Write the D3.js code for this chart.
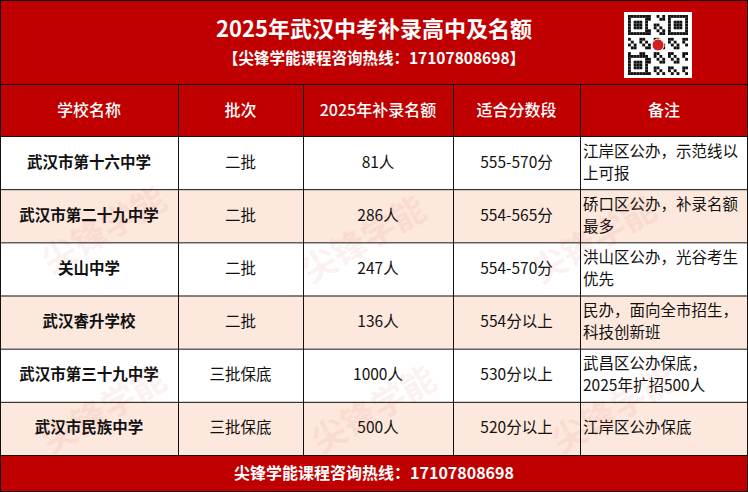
<!DOCTYPE html>
<html><head><meta charset="utf-8">
<script src="https://cdn.jsdelivr.net/npm/d3@7"></script>
<style>body{margin:0;background:#fff}svg{display:block;font-family:"Noto Sans CJK SC",sans-serif}</style>
</head><body><svg id="c" width="748" height="492"></svg>
<script>
var title = "2025年武汉中考补录高中及名额";
var hotline = "【尖锋学能课程咨询热线：17107808698】";
var footer = "尖锋学能课程咨询热线：17107808698";
var headers = ["学校名称", "批次", "2025年补录名额", "适合分数段", "备注"];
var schools = ["武汉市第十六中学", "武汉市第二十九中学", "关山中学", "武汉睿升学校", "武汉市第三十九中学", "武汉市民族中学"];
var batches = ["二批", "二批", "二批", "二批", "三批保底", "三批保底"];
var quotas = ["81人", "286人", "247人", "136人", "1000人", "500人"];
var scores = ["555-570分", "554-565分", "554-570分", "554分以上", "530分以上", "520分以上"];
var notes = [["江岸区公办，示范线以", "上可报"], ["硚口区公办，补录名额", "最多"], ["洪山区公办，光谷考生", "优先"], ["民办，面向全市招生，", "科技创新班"], ["武昌区公办保底，", "2025年扩招500人"], ["江岸区公办保底"]];

var svg = d3.select("#c");
var red = "#c00000";
var colEdges = [0, 178, 303, 453, 580, 748];
var y = d3.scaleBand().domain(d3.range(schools.length)).range([136, 455]);

// title band
svg.append("rect").attr("width", 748).attr("height", 84).attr("fill", red);
svg.append("text").attr("x", 374).attr("y", 37).attr("text-anchor", "middle").attr("fill", "#fff")
  .attr("font-size", 22).attr("font-weight", "bold").text(title);
svg.append("text").attr("x", 374).attr("y", 64).attr("text-anchor", "middle").attr("fill", "#fff")
  .attr("font-size", 15.5).attr("font-weight", "bold").text(hotline);

// qr-like badge
var qr = svg.append("g").attr("transform", "translate(624,12)");
qr.append("rect").attr("width", 68).attr("height", 66).attr("fill", "#fff");
var n = 21, s = 60 / n;
for (var i = 0; i < n; i++) for (var j = 0; j < n; j++) {
  var finder = (i < 7 && j < 7) || (i < 7 && j >= n - 7) || (i >= n - 7 && j < 7);
  var on;
  if (finder) {
    var a = i % 14, b = j % 14; if (i >= 14) a = i - 14; if (j >= 14) b = j - 14;
    on = a == 0 || a == 6 || b == 0 || b == 6 || (a >= 2 && a <= 4 && b >= 2 && b <= 4);
  } else on = ((i * 7 + j * 13 + i * j) % 5) < 2;
  if (on) qr.append("rect").attr("x", 4 + j * s).attr("y", 3 + i * s).attr("width", s).attr("height", s).attr("fill", "#111");
}
qr.append("circle").attr("cx", 34).attr("cy", 33).attr("r", 6).attr("fill", "#d62020").attr("stroke", "#fff");

// header row
svg.append("rect").attr("y", 84).attr("width", 748).attr("height", 52).attr("fill", red);
headers.forEach(function (h, k) {
  svg.append("text").attr("x", (colEdges[k] + colEdges[k + 1]) / 2).attr("y", 116)
    .attr("text-anchor", "middle").attr("fill", "#fff").attr("font-size", 16).attr("font-weight", 500).text(h);
});

// body rows
schools.forEach(function (sch, r) {
  var y0 = y(r), h = y.bandwidth(), cy = y0 + h / 2;
  svg.append("rect").attr("y", y0).attr("width", 748).attr("height", h).attr("fill", r % 2 ? "#fde8dd" : "#fff");
  var cells = [sch, batches[r], quotas[r], scores[r]];
  cells.forEach(function (t, k) {
    svg.append("text").attr("x", (colEdges[k] + colEdges[k + 1]) / 2).attr("y", cy + 5)
      .attr("text-anchor", "middle").attr("fill", "#111").attr("font-size", 15.5)
      .attr("font-weight", k == 0 ? "bold" : "normal").text(t);
  });
  var ls = notes[r];
  ls.forEach(function (t, li) {
    svg.append("text").attr("x", colEdges[4] + 3).attr("y", cy + 5 + (li - (ls.length - 1) / 2) * 22)
      .attr("fill", "#111").attr("font-size", 15.5).text(t);
  });
});

// watermark
[[110, 240], [370, 250], [600, 250], [110, 420], [380, 420], [620, 420]].forEach(function (p) {
  svg.append("text").attr("x", p[0]).attr("y", p[1]).attr("transform", "rotate(-30," + p[0] + "," + p[1] + ")")
    .attr("text-anchor", "middle").attr("font-size", 34).attr("font-weight", "bold")
    .attr("fill", "#d44").attr("opacity", 0.07).text("尖锋学能");
});

// footer
svg.append("rect").attr("y", 455).attr("width", 748).attr("height", 37).attr("fill", red);
svg.append("text").attr("x", 374).attr("y", 479).attr("text-anchor", "middle").attr("fill", "#fff")
  .attr("font-size", 16).attr("font-weight", "bold").text(footer);

// grid lines
var g = svg.append("g").attr("stroke", "#111").attr("stroke-width", 1);
[84, 136].concat(d3.range(schools.length).map(function (r) { return y(r) + y.bandwidth(); })).forEach(function (yy) {
  g.append("line").attr("x1", 0).attr("x2", 748).attr("y1", yy + 0.5).attr("y2", yy + 0.5);
});
colEdges.slice(1, -1).forEach(function (x) {
  g.append("line").attr("x1", x + 0.5).attr("x2", x + 0.5).attr("y1", 84).attr("y2", 455);
});
g.append("rect").attr("x", 0.5).attr("y", 0.5).attr("width", 747).attr("height", 491).attr("fill", "none");
</script></body></html>
